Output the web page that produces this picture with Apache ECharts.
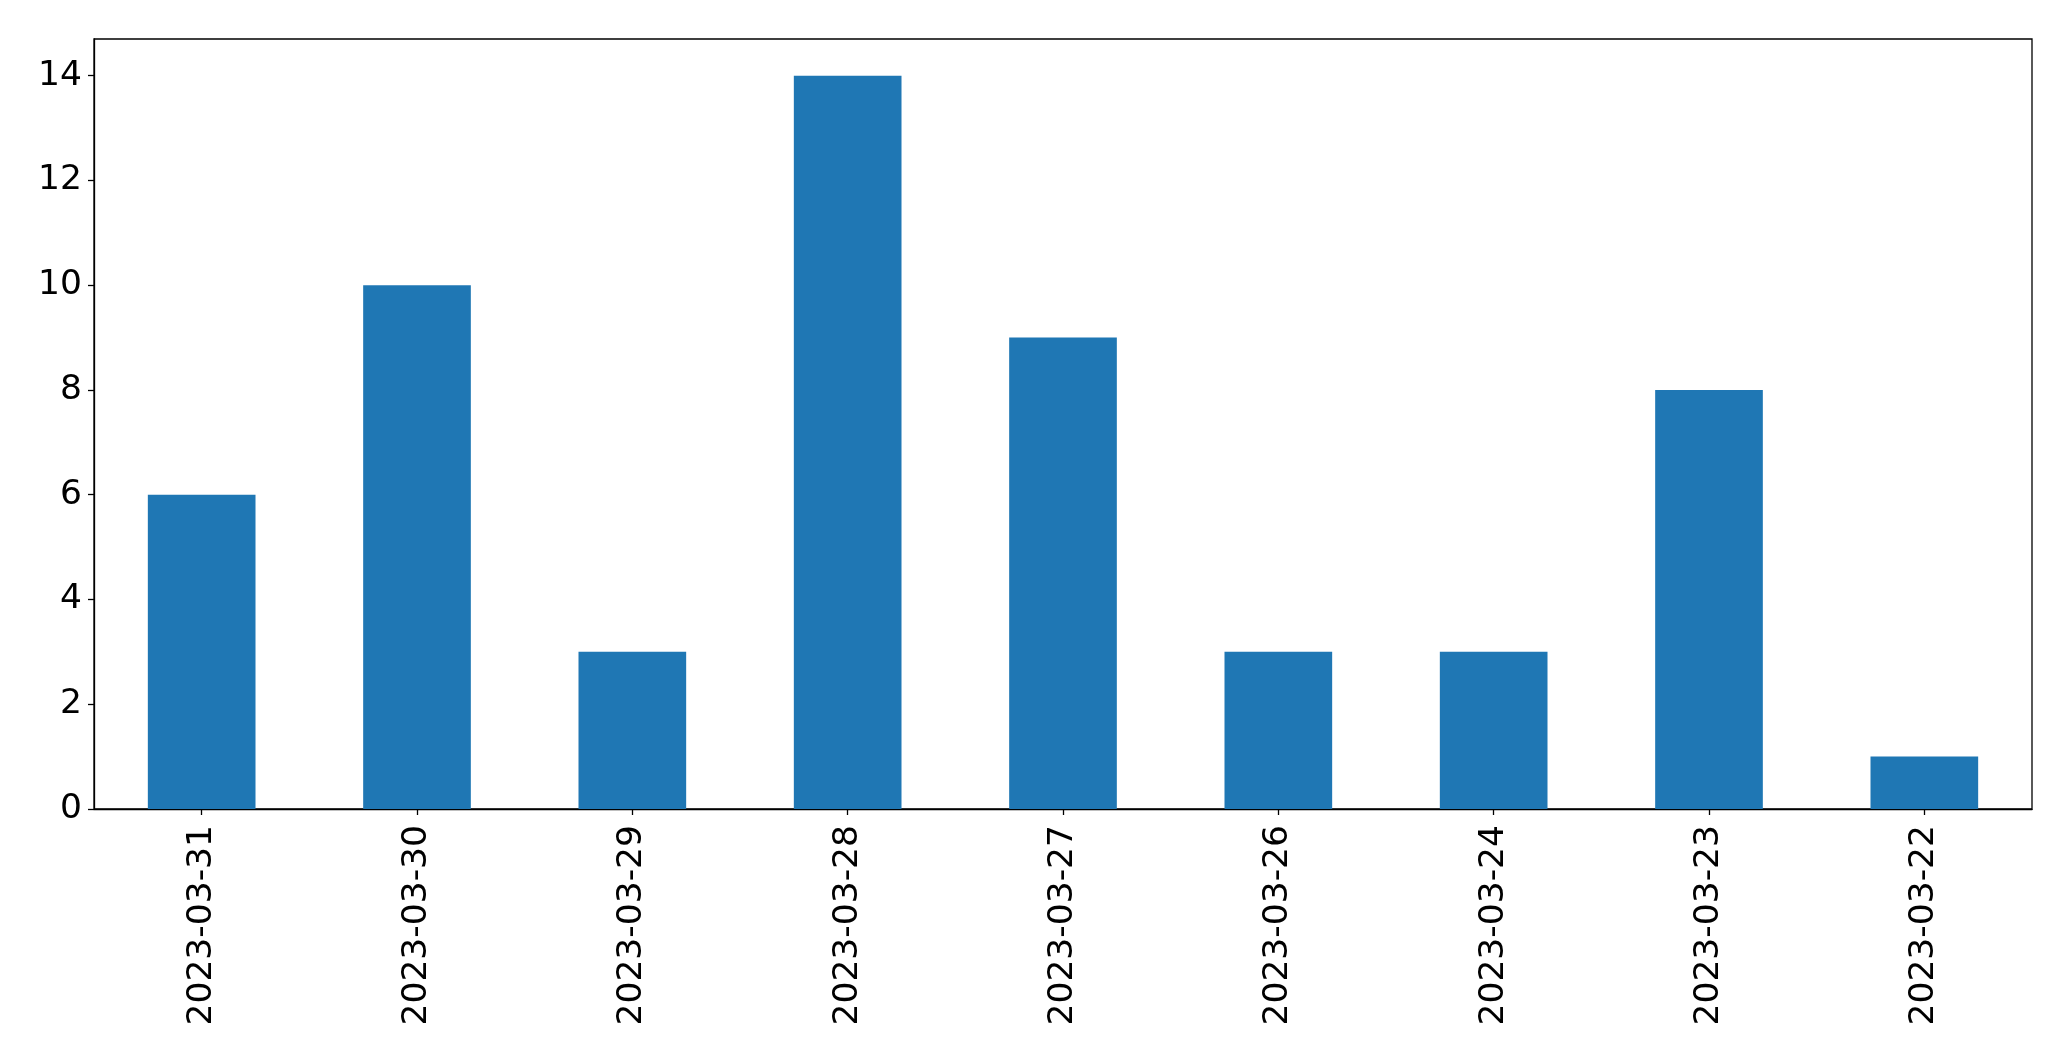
<!DOCTYPE html>
<html>
<head>
<meta charset="utf-8">
<script src="https://cdn.jsdelivr.net/npm/echarts@6/dist/echarts.min.js"></script>
<style>html,body{margin:0;padding:0;background:#fff}#c{width:2071px;height:1061px}</style>
</head>
<body>
<div id="c"></div>
<script>
const categories = ["2023-03-31","2023-03-30","2023-03-29","2023-03-28","2023-03-27","2023-03-26","2023-03-24","2023-03-23","2023-03-22"];
const values = [6, 10, 3, 14, 9, 3, 3, 8, 1];
const yTicks = [0, 2, 4, 6, 8, 10, 12, 14];

const chart = echarts.init(document.getElementById('c'), null, {renderer: 'canvas'});
const font = 'DejaVu Sans';
chart.setOption({
  animation: false,
  grid: {left: 94, top: 39, width: 1938, height: 770, show: true, borderColor: '#000', borderWidth: 1.3, backgroundColor: 'transparent'},
  xAxis: {
    type: 'category',
    data: categories,
    boundaryGap: true,
    axisLine: {show: true, lineStyle: {color: '#000', width: 1.3}},
    axisTick: {show: true, alignWithLabel: true, length: 6, lineStyle: {color: '#000', width: 1.3}},
    axisLabel: {rotate: 90, margin: 16, color: '#000', fontSize: 34.5, fontFamily: font, interval: 0}
  },
  yAxis: {
    type: 'value',
    min: 0,
    max: 14.7,
    interval: 2,
    splitLine: {show: false},
    axisLine: {show: true, lineStyle: {color: '#000', width: 1.3}},
    axisTick: {show: true, length: 6, customValues: yTicks, lineStyle: {color: '#000', width: 1.3}},
    axisLabel: {margin: 12, color: '#000', fontSize: 34.5, fontFamily: font, customValues: yTicks}
  },
  series: [{
    type: 'bar',
    data: values,
    barWidth: '50%',
    itemStyle: {color: '#1f77b4'}
  }]
});
</script>
</body>
</html>
